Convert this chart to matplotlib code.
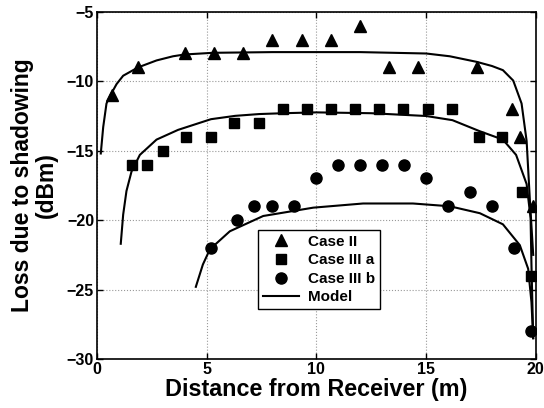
import matplotlib
matplotlib.use("Agg")
import matplotlib.pyplot as plt

plt.rcParams['font.family'] = ['Liberation Sans', 'DejaVu Sans']
plt.rcParams['font.weight'] = 'bold'

# measured points
case2_x = [0.67, 1.88, 4.0, 5.32, 6.65, 7.98, 9.33, 10.67, 11.98, 13.3, 14.65, 17.3, 18.9, 19.3, 19.85]
case2_y = [-11, -9, -8, -8, -8, -7, -7, -7, -6, -9, -9, -9, -12, -14, -19]

case3a_x = [1.58, 2.29, 3.0, 4.08, 5.18, 6.27, 7.38, 8.47, 9.56, 10.67, 11.77, 12.86, 13.97, 15.08, 16.2,
            17.4, 18.47, 19.38, 19.79]
case3a_y = [-16, -16, -15, -14, -14, -13, -13, -12, -12, -12, -12, -12, -12, -12, -12,
            -14, -14, -18, -24]

case3b_x = [5.18, 6.38, 7.18, 7.97, 8.97, 9.98, 11.0, 11.98, 12.99, 14.0, 14.98, 16.0, 16.98, 17.98,
            19.0, 19.79]
case3b_y = [-22, -20, -19, -19, -19, -17, -16, -16, -16, -16, -17, -19, -18, -19, -22, -28]

# model curves
model1_x = [0.18, 0.29, 0.44, 0.62, 0.9, 1.2, 1.88, 2.72, 3.47, 4.0, 5.3, 8.0, 10.0, 12.0, 15.0,
            16.08, 17.3, 18.0, 18.5, 18.97, 19.35, 19.58, 19.73, 19.88]
model1_y = [-15.2, -13.3, -11.6, -11.0, -10.2, -9.6, -9.0, -8.5, -8.2, -8.07, -7.95, -7.9, -7.9,
            -7.9, -8.0, -8.2, -8.6, -8.9, -9.2, -9.95, -11.6, -14.3, -18.6, -22.5]

model2_x = [1.09, 1.2, 1.35, 1.58, 1.96, 2.72, 3.7, 5.2, 6.3, 7.4, 8.5, 10.0, 12.5, 15.0, 16.2,
            17.45, 18.5, 19.1, 19.58, 19.76, 19.8, 19.88]
model2_y = [-21.7, -19.6, -17.9, -16.5, -15.3, -14.2, -13.5, -12.73, -12.49, -12.36, -12.3, -12.24,
            -12.3, -12.5, -12.8, -13.6, -14.2, -15.3, -17.4, -19.85, -23.2, -28.5]

model3_x = [4.51, 4.83, 5.15, 6.06, 7.58, 9.86, 12.13, 14.4, 16.08, 17.45, 18.5, 19.27, 19.65,
            19.8, 19.88]
model3_y = [-24.8, -23.2, -22.1, -20.8, -19.7, -19.1, -18.8, -18.8, -19.0, -19.5, -20.3, -21.8,
            -23.5, -25.9, -28.5]

x_ticks = [0, 5, 10, 15, 20]
y_ticks = [-30, -25, -20, -15, -10, -5]

fig = plt.figure(figsize=(5.44, 4.08), dpi=100)
ax = fig.add_axes([0.178, 0.12, 0.807, 0.851])

ax.plot(case2_x, case2_y, '^', color='k', markersize=9, linestyle='none', label='Case II')
ax.plot(case3a_x, case3a_y, 's', color='k', markersize=7, linestyle='none', label='Case III a')
ax.plot(case3b_x, case3b_y, 'o', color='k', markersize=8, linestyle='none', label='Case III b')
ax.plot(model1_x, model1_y, '-', color='k', linewidth=1.5, label='Model')
ax.plot(model2_x, model2_y, '-', color='k', linewidth=1.5)
ax.plot(model3_x, model3_y, '-', color='k', linewidth=1.5)

ax.set_xlim(0, 20)
ax.set_ylim(-30, -5)
ax.set_xticks(x_ticks)
ax.set_yticks(y_ticks)
ax.tick_params(direction='in', top=True, right=True, labelsize=11.5, width=1, length=4, pad=2)
for lbl in ax.get_xticklabels() + ax.get_yticklabels():
    lbl.set_fontweight('bold')
ax.grid(True, linestyle=':', color='#999999', linewidth=0.8)
for s in ax.spines.values():
    s.set_linewidth(1.2)

ax.set_xlabel('Distance from Receiver (m)', fontsize=16.8, fontweight='bold', labelpad=1)
ax.set_ylabel('Loss due to shadowing\n(dBm)', fontsize=16.5, fontweight='bold', labelpad=6,
              linespacing=1.05)

leg = ax.legend(loc='lower left', bbox_to_anchor=(0.367, 0.144), fontsize=11, frameon=True,
                fancybox=False, edgecolor='k', framealpha=1, borderpad=0.3, labelspacing=0.3,
                handlelength=2.4, handletextpad=0.6, borderaxespad=0)
leg.get_frame().set_linewidth(1.0)
for t in leg.get_texts():
    t.set_fontweight('bold')

fig.savefig('out.png', dpi=100)
